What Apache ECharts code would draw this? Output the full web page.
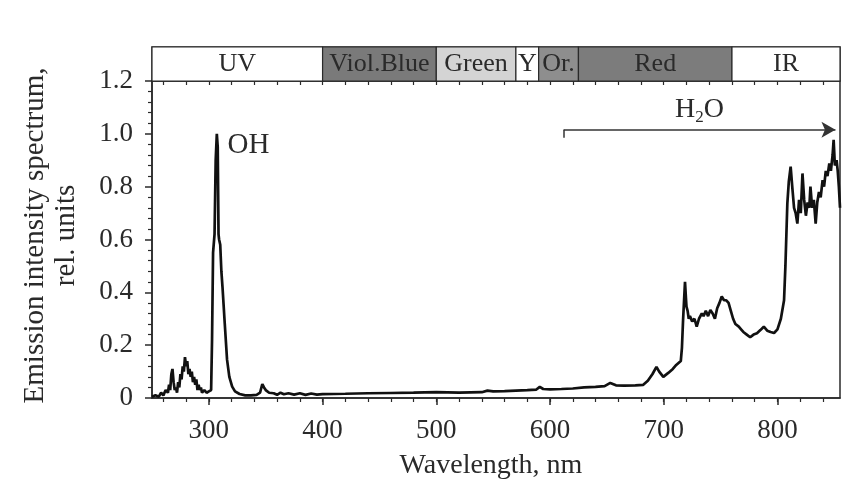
<!DOCTYPE html>
<html>
<head>
<meta charset="utf-8">
<script src="https://cdn.jsdelivr.net/npm/echarts@6/dist/echarts.min.js"></script>
<style>
  html, body { margin: 0; padding: 0; background: #fff; }
  #chart { width: 842px; height: 482px; }
</style>
</head>
<body>
<div id="chart"></div>
<script>
// wavelength (nm) and relative intensity
const wavelengths = [
  250, 253, 256, 258, 260, 262, 264, 265, 266, 267, 268, 269, 270, 271, 272, 273, 274, 275, 276, 277,
  278, 279, 280, 281, 282, 283, 284, 285, 286, 287, 288, 289, 290, 291, 292, 293, 294, 296, 298, 300,
  302, 302.8, 303.7, 305, 306, 307, 307.8, 308.5, 309, 310, 311, 312, 314, 316, 318, 320.5, 323, 327, 332, 337,
  342, 345, 347, 348.5, 350, 353, 357, 360, 363, 366, 370, 375, 380, 385, 390, 395, 400, 420, 440, 460,
  480, 500, 520, 540, 545, 550, 560, 570, 580, 588, 591, 594, 600, 610, 620, 630, 640, 648, 653, 658,
  665, 675, 682, 686, 690, 693.6, 696, 699.6, 704, 708, 711, 715, 716, 717, 718.7, 719.5, 720, 721, 722, 723,
  725, 727, 729, 731, 733.5, 735, 737, 739, 741, 743, 745, 747, 749, 751, 753, 755, 757, 759, 761, 763,
  766, 768, 770, 773, 776, 779, 782, 785, 788, 791, 794, 797, 800, 803, 805.8, 807, 808.7, 810, 811.6, 813,
  814.6, 816, 817.5, 819, 820.5, 822, 823.5, 825, 826.5, 828, 829, 830.5, 832, 833.6, 835, 836.5, 838, 839.7, 841, 842.5,
  844, 845.6, 847, 848.5, 849.4, 850.5, 852, 853, 854, 855
];
const intensity = [
  0.005, 0.01, 0.005, 0.02, 0.01, 0.03, 0.02, 0.05, 0.03, 0.09, 0.11, 0.06, 0.03, 0.04, 0.02, 0.06, 0.04, 0.09, 0.07, 0.12,
  0.10, 0.155, 0.12, 0.14, 0.09, 0.11, 0.08, 0.10, 0.06, 0.08, 0.05, 0.07, 0.03, 0.05, 0.03, 0.04, 0.02, 0.03, 0.02, 0.025,
  0.03, 0.22, 0.55, 0.62, 0.9, 1.0, 0.95, 0.62, 0.6, 0.58, 0.48, 0.42, 0.28, 0.145, 0.08, 0.043, 0.025, 0.015, 0.01, 0.01,
  0.012, 0.02, 0.053, 0.04, 0.03, 0.02, 0.018, 0.012, 0.02, 0.014, 0.018, 0.013, 0.018, 0.012, 0.017, 0.013, 0.015, 0.016, 0.018, 0.019,
  0.02, 0.022, 0.02, 0.022, 0.028, 0.025, 0.026, 0.028, 0.03, 0.032, 0.042, 0.034, 0.033, 0.034, 0.036, 0.04, 0.042, 0.045, 0.057, 0.048,
  0.047, 0.048, 0.05, 0.065, 0.09, 0.118, 0.1, 0.08, 0.095, 0.11, 0.125, 0.14, 0.19, 0.295, 0.44, 0.38, 0.346, 0.33, 0.3, 0.31,
  0.29, 0.3, 0.27, 0.3, 0.32, 0.31, 0.33, 0.31, 0.333, 0.32, 0.30, 0.34, 0.36, 0.384, 0.37, 0.37, 0.36, 0.33, 0.3, 0.28,
  0.27, 0.26, 0.25, 0.24, 0.23, 0.24, 0.245, 0.257, 0.27, 0.255, 0.25, 0.246, 0.26, 0.3, 0.37, 0.5, 0.737, 0.82, 0.876, 0.8,
  0.72, 0.7, 0.66, 0.75, 0.7, 0.85, 0.75, 0.69, 0.74, 0.72, 0.80, 0.72, 0.75, 0.66, 0.74, 0.78, 0.76, 0.825, 0.8, 0.86,
  0.84, 0.888, 0.86, 0.92, 0.977, 0.88, 0.9, 0.86, 0.8, 0.72
];

// spectral band strip on top
const bandNames = ['UV', 'Viol.Blue', 'Green', 'Y', 'Or.', 'Red', 'IR'];
const bandEdges = [250, 400, 500, 570, 590, 625, 760, 855];
const bandColors = ['#ffffff', '#7a7a7a', '#d4d4d4', '#ffffff', '#8e8e8e', '#7c7c7c', '#ffffff'];

const xMajorTicks = [300, 400, 500, 600, 700, 800];
const xMinorTicks = [260, 280, 300, 320, 340, 360, 380, 400, 420, 440, 460, 480, 500, 520, 540, 560, 580,
  600, 620, 640, 660, 680, 700, 720, 740, 760, 780, 800, 820, 840];

const serif = '"Liberation Serif", "DejaVu Serif", serif';
const ink = '#2a2a2a';

const chart = echarts.init(document.getElementById('chart'), null, { renderer: 'canvas' });

const bandAreas = bandNames.map((name, i) => [
  { xAxis: bandEdges[i], name: name, itemStyle: { color: bandColors[i] } },
  { xAxis: bandEdges[i + 1] }
]);

const option = {
  backgroundColor: '#fff',
  animation: false,
  grid: [
    { left: 152, right: 2, top: 81, bottom: 84, outerBoundsMode: 'none', containLabel: false,
      show: true, borderColor: ink, borderWidth: 1.5, backgroundColor: 'transparent' },
    { left: 152, right: 2, top: 47, height: 34, outerBoundsMode: 'none', containLabel: false,
      show: true, borderColor: ink, borderWidth: 1.5, backgroundColor: 'transparent' }
  ],
  xAxis: [
    { // bottom axis with labels
      type: 'value', gridIndex: 0, min: 250, max: 855, position: 'bottom',
      name: 'Wavelength, nm', nameLocation: 'middle', nameGap: 54,
      nameTextStyle: { fontFamily: serif, fontSize: 28, color: ink, padding: [0, 10, 0, 0] },
      axisLine: { show: true, onZero: false, lineStyle: { color: ink, width: 1.5 } },
      axisTick: { show: true, inside: false, length: 7, customValues: xMajorTicks, lineStyle: { color: ink, width: 1.5 } },
      axisLabel: { show: true, margin: 19, customValues: xMajorTicks, fontFamily: serif, fontSize: 27, color: ink },
      splitLine: { show: false }
    },
    { // bottom minor ticks
      type: 'value', gridIndex: 0, min: 250, max: 855, position: 'bottom',
      axisLine: { show: false },
      axisTick: { show: true, inside: false, length: 4, customValues: xMinorTicks, lineStyle: { color: ink, width: 1.2 } },
      axisLabel: { show: false },
      splitLine: { show: false }
    },
    { // top ticks of the main plot, pointing in
      type: 'value', gridIndex: 0, min: 250, max: 855, position: 'top',
      axisLine: { show: false },
      axisTick: { show: true, inside: true, length: 4, customValues: xMinorTicks, lineStyle: { color: ink, width: 1.2 } },
      axisLabel: { show: false },
      splitLine: { show: false }
    },
    { // band strip
      type: 'value', gridIndex: 1, min: 250, max: 855,
      axisLine: { show: false }, axisTick: { show: false }, axisLabel: { show: false }, splitLine: { show: false }
    }
  ],
  yAxis: [
    {
      type: 'value', gridIndex: 0, min: 0, max: 1.2, interval: 0.2,
      name: 'Emission intensity spectrum,\nrel. units', nameLocation: 'middle', nameGap: 70,
      nameTextStyle: { fontFamily: serif, fontSize: 29, color: ink, lineHeight: 31, padding: [0, 0, 0, 8] },
      axisLine: { show: true, lineStyle: { color: ink, width: 1.5 } },
      axisTick: { show: true, inside: false, length: 7, lineStyle: { color: ink, width: 1.5 } },
      minorTick: { show: true, splitNumber: 5, length: 4, lineStyle: { color: ink, width: 1.2 } },
      axisLabel: {
        margin: 19, fontFamily: serif, fontSize: 27, color: ink,
        formatter: v => (v === 0 ? '0' : v.toFixed(1))
      },
      splitLine: { show: false }
    },
    {
      type: 'value', gridIndex: 1, min: 0, max: 1,
      axisLine: { show: false }, axisTick: { show: false }, axisLabel: { show: false }, splitLine: { show: false }
    }
  ],
  series: [
    {
      name: 'spectrum',
      type: 'line',
      xAxisIndex: 0,
      yAxisIndex: 0,
      data: wavelengths.map((w, i) => [w, intensity[i]]),
      showSymbol: false,
      symbol: 'none',
      lineStyle: { color: '#111', width: 2.7 },
      markPoint: {
        symbol: 'circle', symbolSize: 1,
        itemStyle: { color: 'rgba(0,0,0,0)' },
        label: { show: true, position: 'right', distance: 0, fontFamily: serif, fontSize: 29, color: ink, formatter: '{b}' },
        data: [{ name: 'OH', coord: [316, 0.955] }]
      },
      markLine: {
        silent: true,
        symbol: ['none', 'arrow'],
        symbolSize: [12, 14],
        lineStyle: { color: '#333', width: 1.5, type: 'solid' },
        label: { show: false },
        data: [
          [
            { coord: [612, 1.015], symbol: 'none' },
            {
              coord: [851, 1.015],
              label: {
                show: true, position: 'middle', distance: 4,
                formatter: '{a|H}{s|2}{a|O}',
                rich: {
                  a: { fontFamily: serif, fontSize: 28, color: ink },
                  s: { fontFamily: serif, fontSize: 17, color: ink, padding: [16, 0, 0, 0] }
                }
              }
            }
          ],
          [
            { coord: [612, 1.015], symbol: 'none' },
            { coord: [612, 0.985], symbol: 'none' }
          ]
        ]
      }
    },
    {
      name: 'bands',
      type: 'line',
      xAxisIndex: 3,
      yAxisIndex: 1,
      data: [[250, 0], [855, 0]],
      showSymbol: false,
      lineStyle: { opacity: 0 },
      silent: true,
      markArea: {
        silent: true,
        itemStyle: { borderColor: ink, borderWidth: 1.2 },
        label: { show: true, position: 'inside', fontFamily: serif, fontSize: 26, color: ink },
        data: bandAreas
      }
    }
  ]
};

chart.setOption(option);
</script>
</body>
</html>
